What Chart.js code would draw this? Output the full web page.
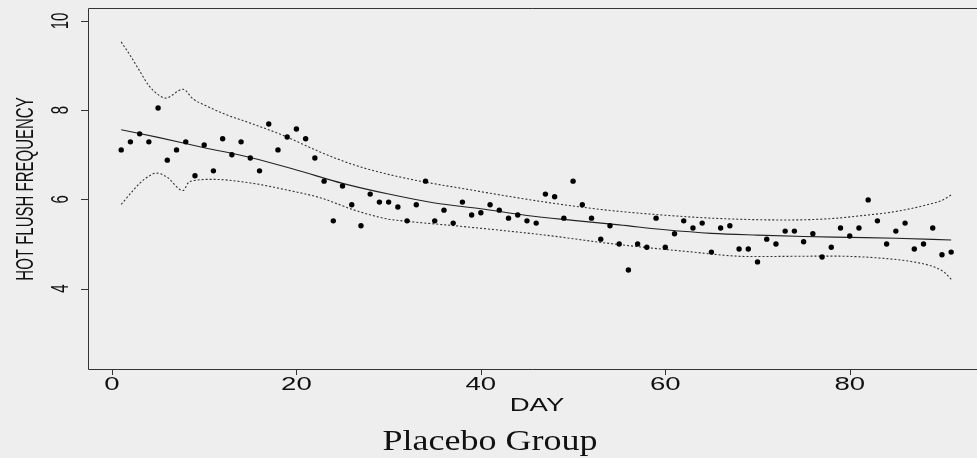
<!DOCTYPE html>
<html lang="en">
<head>
<meta charset="UTF-8">
<title>Placebo Group</title>
<script src="https://cdn.jsdelivr.net/npm/chart.js"></script>
<style>
  html, body { margin: 0; padding: 0; background: #eeeeee; overflow: hidden; }
</style>
</head>
<body>
<canvas id="myCanvas" width="977" height="458"></canvas>
<script>
// observed daily values
var days = [1,2,3,4,5,6,7,8,9,10,11,12,13,14,15,16,17,18,19,20,21,22,23,24,25,26,27,28,29,30,
  31,32,33,34,35,36,37,38,39,40,41,42,43,44,45,46,47,48,49,50,51,52,53,54,55,56,57,58,59,60,
  61,62,63,64,65,66,67,68,69,70,71,72,73,74,75,76,77,78,79,80,81,82,83,84,85,86,87,88,89,90,91];
var flushes = [7.11,7.29,7.47,7.29,8.05,6.88,7.11,7.29,6.53,7.22,6.64,7.36,7.00,7.29,6.93,6.64,
  7.69,7.11,7.40,7.58,7.36,6.93,6.41,5.52,6.30,5.88,5.41,6.12,5.94,5.94,5.83,
  5.52,5.88,6.41,5.52,5.76,5.47,5.94,5.65,5.70,5.88,5.76,5.58,5.65,5.52,5.47,6.12,
  6.06,5.58,6.41,5.88,5.58,5.11,5.41,5.00,4.42,5.00,4.93,5.58,4.93,5.23,5.52,
  5.36,5.47,4.82,5.36,5.41,4.89,4.89,4.60,5.11,5.00,5.29,5.29,5.05,5.23,4.71,4.93,
  5.36,5.18,5.36,5.99,5.52,5.00,5.29,5.47,4.89,5.00,5.36,4.76,4.82];

// smooth fit
var fitDays = [1,5,10,15,20,25,30,35,40,45,50,55,60,65,70,75,80,85,91];
var fitVals = [7.56,7.39,7.16,6.94,6.66,6.36,6.12,5.92,5.79,5.64,5.53,5.43,5.32,5.24,5.20,5.17,5.15,5.13,5.09];

// upper and lower bands
var upDays = [1,2,3,4,5,5.8,7.7,8.8,10,12,15,18.5,22.5,26.3,31.5,39,47,53.7,62.5,67.4,73,78,81,85,88.4,90,91];
var upVals = [9.53,9.22,8.88,8.55,8.35,8.27,8.47,8.25,8.12,7.93,7.71,7.44,7.07,6.77,6.49,6.21,5.94,5.76,5.61,5.56,5.54,5.57,5.63,5.73,5.88,5.98,6.10];
var loDays = [1,2,3,4,4.8,5.9,7.7,8.4,10.9,15,19,22.7,26.3,29.9,31.5,38.2,47,53.7,62.5,69.2,78,83,86.6,89.1,90.3,91];
var loVals = [5.89,6.13,6.36,6.52,6.59,6.51,6.20,6.40,6.45,6.37,6.21,6.03,5.76,5.56,5.52,5.39,5.20,5.02,4.83,4.72,4.73,4.69,4.61,4.49,4.36,4.21];

var xTicks = [0,20,40,60,80];
var yTicks = [4,6,8,10];

function pts(xs, ys) {
    return xs.map(function(v, i){ return {x: v, y: ys[i]}; });
}

function txt(ctx, s, x, y, font, sx, rot) {
    ctx.save();
    ctx.translate(x, y);
    ctx.scale(sx, 1);
    ctx.rotate(rot);
    ctx.font = font;
    ctx.textAlign = 'center';
    ctx.textBaseline = 'alphabetic';
    ctx.fillText(s, 0, 0);
    ctx.restore();
}

// frame, ticks and all the text, drawn from the chart's scales
var axesPlugin = {
    id: 'axesPlugin',
    afterDraw: function(chart) {
        var ctx = chart.ctx, a = chart.chartArea;
        var xs = chart.scales.x, ys = chart.scales.y;
        ctx.save();
        ctx.strokeStyle = '#333';
        ctx.lineWidth = 1;
        ctx.beginPath();
        ctx.moveTo(chart.width, a.top + 0.5);
        ctx.lineTo(a.left + 0.5, a.top + 0.5);
        ctx.lineTo(a.left + 0.5, a.bottom + 0.5);
        ctx.lineTo(chart.width, a.bottom + 0.5);
        yTicks.forEach(function(v){
            var py = Math.round(ys.getPixelForValue(v)) + 0.5;
            ctx.moveTo(a.left - 7, py);
            ctx.lineTo(a.left, py);
        });
        xTicks.forEach(function(v){
            var px = Math.round(xs.getPixelForValue(v)) + 0.5;
            ctx.moveTo(px, a.bottom);
            ctx.lineTo(px, a.bottom + 6);
        });
        ctx.stroke();

        ctx.fillStyle = '#111';
        yTicks.forEach(function(v){
            txt(ctx, String(v), 68, ys.getPixelForValue(v), '15px "Liberation Sans"', 1.65, -Math.PI / 2);
        });
        xTicks.forEach(function(v){
            txt(ctx, String(v), xs.getPixelForValue(v), 390, '19px "Liberation Sans"', 1.45, 0);
        });
        txt(ctx, 'HOT FLUSH FREQUENCY', 33, 189, '15px "Liberation Sans"', 1.65, -Math.PI / 2);
        txt(ctx, 'DAY', 537, 411, '19px "Liberation Sans"', 1.45, 0);
        txt(ctx, 'Placebo Group', 490, 450, '30px "Liberation Serif"', 1.2, 0);
        ctx.restore();
    }
};

var ctx = document.getElementById('myCanvas').getContext('2d');
var myChart = new Chart(ctx, {
    type: 'scatter',
    data: {
        datasets: [
            {
                label: 'Daily',
                data: pts(days, flushes),
                backgroundColor: '#000',
                borderColor: '#000',
                pointRadius: 2.7,
                pointBorderWidth: 0,
                showLine: false
            },
            {
                label: 'Fit',
                data: pts(fitDays, fitVals),
                showLine: true,
                borderColor: '#222',
                borderWidth: 1.1,
                pointRadius: 0,
                cubicInterpolationMode: 'monotone'
            },
            {
                label: 'Upper',
                data: pts(upDays, upVals),
                showLine: true,
                borderColor: '#333',
                borderWidth: 1.1,
                borderDash: [2, 2],
                pointRadius: 0,
                cubicInterpolationMode: 'monotone'
            },
            {
                label: 'Lower',
                data: pts(loDays, loVals),
                showLine: true,
                borderColor: '#333',
                borderWidth: 1.1,
                borderDash: [2, 2],
                pointRadius: 0,
                cubicInterpolationMode: 'monotone'
            }
        ]
    },
    options: {
        responsive: false,
        animation: false,
        layout: { autoPadding: false, padding: { left: 88, top: 8, right: 0, bottom: 89 } },
        plugins: { legend: { display: false }, tooltip: { enabled: false } },
        scales: {
            x: { type: 'linear', min: -2.6, max: 93.8, display: false },
            y: { type: 'linear', min: 2.2, max: 10.29, display: false }
        }
    },
    plugins: [axesPlugin]
});
</script>
</body>
</html>
